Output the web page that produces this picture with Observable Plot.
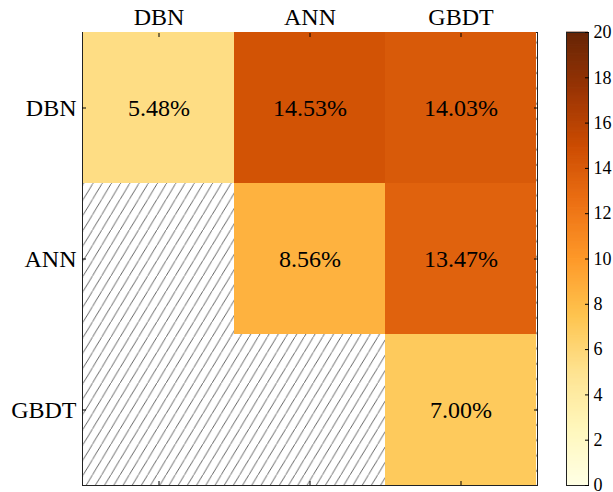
<!DOCTYPE html>
<html>
<head>
<meta charset="utf-8">
<script src="https://cdn.jsdelivr.net/npm/d3@7"></script>
<script src="https://cdn.jsdelivr.net/npm/@observablehq/plot@0.6"></script>
<style>
  html, body { margin: 0; padding: 0; background: white; }
  #chart { position: relative; width: 613px; height: 492px; overflow: hidden; }
  #chart svg { position: absolute; top: 0; overflow: visible; }
  #chart svg text { font-family: 'Liberation Serif', 'Times New Roman', serif; }
</style>
</head>
<body>
<div id="chart"></div>
<script>
// ---- data ----
const models = ["DBN", "ANN", "GBDT"];
const rowModel = ["DBN", "DBN", "DBN", "ANN", "ANN", "GBDT"];
const colModel = ["DBN", "ANN", "GBDT", "ANN", "GBDT", "GBDT"];
const values = [5.48, 14.53, 14.03, 8.56, 13.47, 7.00];
const colorDomain = [0, 20];
const colorbarTicks = [0, 2, 4, 6, 8, 10, 12, 14, 16, 18, 20];

// ---- styling ----
const ylOrBr = ["#ffffe5","#fff7bc","#fee391","#fec44f","#fe9929","#ec7014","#cc4c02","#993404","#662506"];
const interp = d3.piecewise(d3.interpolateRgb, ylOrBr);
const font = "Liberation Serif";

const cells = values.map((v, i) => ({row: rowModel[i], col: colModel[i], value: v}));
const gradient = d3.range(0, 400).map(i => ({lo: i * 0.05, hi: (i + 1) * 0.05}));

const chart = document.getElementById("chart");

const main = Plot.plot({
  width: 545,
  height: 492,
  marginLeft: 82,
  marginRight: 8,
  marginTop: 32,
  marginBottom: 7,
  style: {fontFamily: font, fontSize: "24px", color: "black", background: "transparent"},
  x: {type: "band", domain: models, padding: 0, label: null},
  y: {type: "band", domain: models, padding: 0, label: null},
  color: {type: "linear", domain: colorDomain, interpolate: interp},
  marks: [
    Plot.frame({fill: "url(#hatch)", stroke: "#222", strokeWidth: 1}),
    Plot.cell(cells, {x: "col", y: "row", fill: "value", inset: 0}),
    Plot.text(cells, {x: "col", y: "row", text: d => d.value.toFixed(2) + "%", fontSize: 24, fontFamily: font, fill: "black"}),
    Plot.axisX({anchor: "top", tickSize: -4, tickPadding: 12, fontSize: 24, fontFamily: font, stroke: "black", label: null}),
    Plot.axisX({anchor: "bottom", tickSize: -4, tickFormat: () => "", label: null}),
    Plot.axisY({anchor: "left", tickSize: -4, tickPadding: 10, fontSize: 24, fontFamily: font, label: null}),
    Plot.axisY({anchor: "right", tickSize: -4, tickFormat: () => "", label: null})
  ]
});
main.style.left = "0px";

// hatch pattern
const defs = d3.select(main).insert("defs", ":first-child");
const pw = 9.2, ph = 15.3;
const pat = defs.append("pattern")
  .attr("id", "hatch")
  .attr("patternUnits", "userSpaceOnUse")
  .attr("width", pw)
  .attr("height", ph);
pat.append("rect").attr("width", pw).attr("height", ph).attr("fill", "white");
pat.append("path")
  .attr("d", `M${-pw * 0.2},${ph * 1.2} L${pw * 1.2},${-ph * 0.2}`)
  .attr("stroke", "#555")
  .attr("stroke-width", 0.9)
  .attr("fill", "none");

chart.appendChild(main);

const bar = Plot.plot({
  width: 68,
  height: 492,
  marginLeft: 21,
  marginRight: 25,
  marginTop: 32,
  marginBottom: 7,
  style: {fontFamily: font, fontSize: "18px", color: "black", background: "transparent"},
  x: {domain: [0, 1], axis: null},
  y: {domain: colorDomain, label: null},
  color: {type: "linear", domain: colorDomain, interpolate: interp},
  marks: [
    Plot.rect(gradient, {x1: 0, x2: 1, y1: "lo", y2: "hi", fill: d => (d.lo + d.hi) / 2, insetTop: -0.4, insetBottom: -0.4}),
    Plot.frame({stroke: "#222", strokeWidth: 1}),
    Plot.axisY({anchor: "right", ticks: colorbarTicks, tickSize: -4, tickPadding: 9, fontSize: 18, fontFamily: font, label: null})
  ]
});
bar.style.left = "545px";
chart.appendChild(bar);
</script>
</body>
</html>
